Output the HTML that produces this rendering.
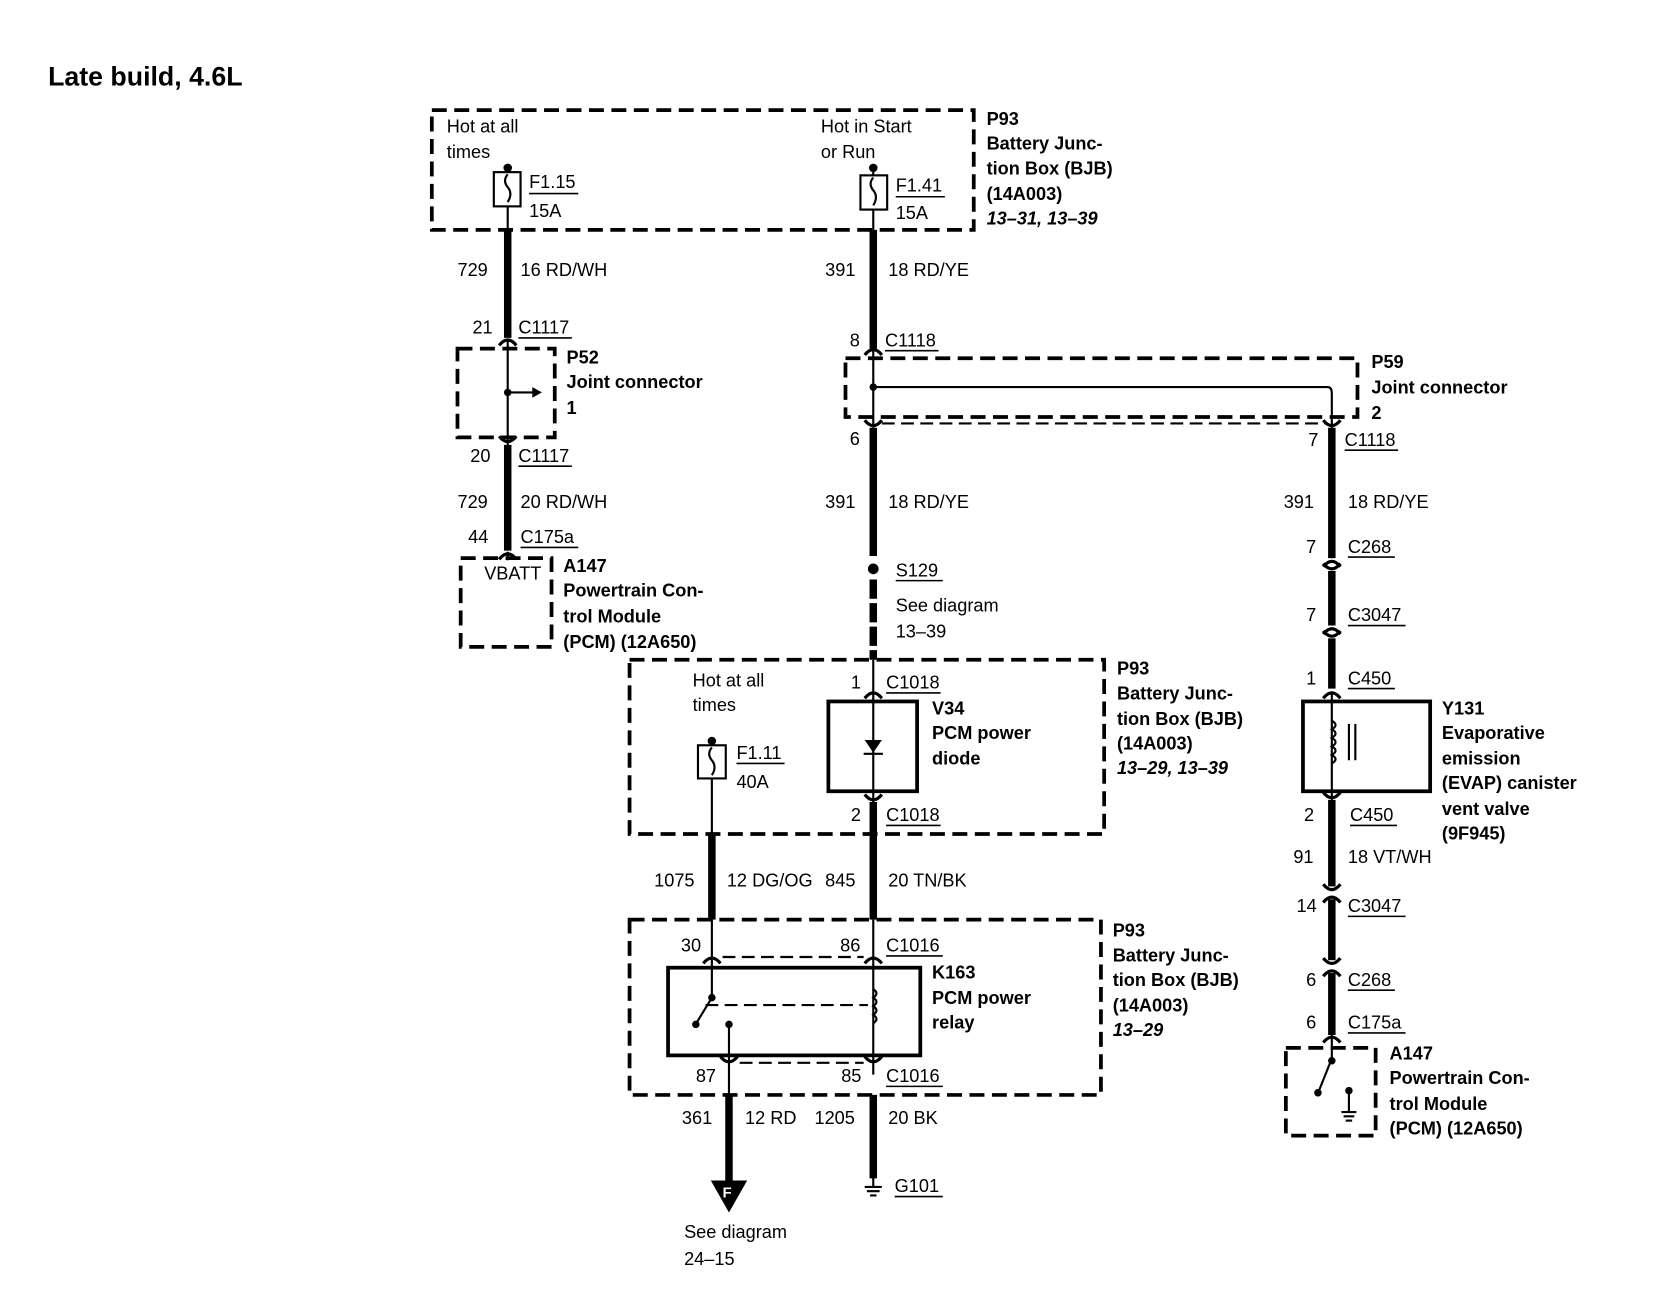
<!DOCTYPE html>
<html><head><meta charset="utf-8"><style>
html,body{margin:0;padding:0;background:#fff;}
svg{display:block;}
text{font-family:"Liberation Sans",Arial,sans-serif;font-size:17px;fill:#000;}
.b{font-weight:bold;}
.i{font-weight:bold;font-style:italic;}
.d{fill:none;stroke:#000;stroke-width:3.5;stroke-dasharray:14,7;}
.w{stroke:#000;stroke-width:7;fill:none;}
.t{stroke:#000;stroke-width:2;fill:none;}
.u{stroke:#000;stroke-width:1.5;}
</style></head><body>
<svg width="1676" height="1312" viewBox="0 0 1568 1227" preserveAspectRatio="none" xmlns="http://www.w3.org/2000/svg">
<defs>
<g id="cap"><path d="M-8,5 Q0,-5 8,5" stroke="#000" stroke-width="3" fill="none"/></g>
<g id="cup"><path d="M-8,-5 Q0,5 8,-5" stroke="#000" stroke-width="3" fill="none"/></g>
</defs>
<text x="45" y="80" class="b" style="font-size:25px">Late build, 4.6L</text>

<!-- Top BJB -->
<rect x="404" y="103" width="507" height="112" class="d"/>
<text x="418" y="124">Hot at all</text><text x="418" y="148">times</text>
<text x="768" y="124">Hot in Start</text><text x="768" y="148">or Run</text>
<circle cx="475" cy="157" r="4"/>
<line x1="475" y1="157" x2="475" y2="215" class="t"/>
<rect x="462" y="161" width="25" height="32" fill="#fff" stroke="#000" stroke-width="2"/>
<path d="M475,163 q-5,6 0,12 q5,6 0,14" class="t"/>
<text x="495" y="176">F1.15</text><line x1="495" y1="181" x2="541" y2="181" class="u"/>
<text x="495" y="203">15A</text>
<circle cx="817" cy="157" r="4"/>
<line x1="817" y1="157" x2="817" y2="215" class="t"/>
<rect x="805" y="164" width="25" height="32" fill="#fff" stroke="#000" stroke-width="2"/>
<path d="M817,166 q-5,6 0,12 q5,6 0,14" class="t"/>
<text x="838" y="179">F1.41</text><line x1="838" y1="184" x2="884" y2="184" class="u"/>
<text x="838" y="205">15A</text>
<text x="923" y="117" class="b">P93</text>
<text x="923" y="140" class="b">Battery Junc-</text>
<text x="923" y="163" class="b">tion Box (BJB)</text>
<text x="923" y="187" class="b">(14A003)</text>
<text x="923" y="210" class="i">13–31, 13–39</text>

<!-- Left wire -->
<line x1="475" y1="215" x2="475" y2="316" class="w"/>
<text x="428" y="258">729</text><text x="487" y="258">16 RD/WH</text>
<use href="#cap" x="475" y="318"/>
<text x="442" y="312">21</text><text x="485" y="312">C1117</text><line x1="485" y1="316" x2="535" y2="316" class="u"/>
<rect x="428" y="326" width="91" height="83" class="d"/>
<line x1="475" y1="318" x2="475" y2="418" class="t"/>
<circle cx="475" cy="367" r="3.5"/>
<line x1="475" y1="367" x2="500" y2="367" class="t"/><path d="M498,362 L507,367 L498,372 Z"/>
<text x="530" y="340" class="b">P52</text><text x="530" y="363" class="b">Joint connector</text><text x="530" y="387" class="b">1</text>
<use href="#cup" x="475" y="413"/>
<line x1="475" y1="416" x2="475" y2="515" class="w"/>
<text x="440" y="432">20</text><text x="485" y="432">C1117</text><line x1="485" y1="436" x2="535" y2="436" class="u"/>
<text x="428" y="475">729</text><text x="487" y="475">20 RD/WH</text>
<text x="438" y="508">44</text><text x="487" y="508">C175a</text><line x1="487" y1="512" x2="541" y2="512" class="u"/>
<use href="#cap" x="475" y="518"/>
<line x1="475" y1="516" x2="475" y2="524" class="t"/>
<rect x="431" y="522" width="85" height="83" class="d"/>
<text x="453" y="542">VBATT</text>
<text x="527" y="535" class="b">A147</text><text x="527" y="558" class="b">Powertrain Con-</text>
<text x="527" y="582" class="b">trol Module</text><text x="527" y="606" class="b">(PCM) (12A650)</text>

<!-- Middle wire top -->
<line x1="817" y1="215" x2="817" y2="326" class="w"/>
<text x="772" y="258">391</text><text x="831" y="258">18 RD/YE</text>
<use href="#cap" x="817" y="327"/>
<text x="795" y="324">8</text><text x="828" y="324">C1118</text><line x1="828" y1="328" x2="878" y2="328" class="u"/>
<rect x="791" y="335" width="479" height="55" class="d"/>
<line x1="817" y1="327" x2="817" y2="400" class="t"/>
<circle cx="817" cy="362" r="3.5"/>
<path d="M817,362 H1242 Q1246,362 1246,368 V400" class="t"/>
<line x1="825" y1="396" x2="1240" y2="396" stroke="#000" stroke-width="2" stroke-dasharray="12,6"/>
<text x="1283" y="344" class="b">P59</text><text x="1283" y="368" class="b">Joint connector</text><text x="1283" y="392" class="b">2</text>
<use href="#cup" x="817" y="398"/>
<use href="#cup" x="1246" y="398"/>
<line x1="817" y1="400" x2="817" y2="520" class="w"/>
<text x="795" y="416">6</text>
<text x="772" y="475">391</text><text x="831" y="475">18 RD/YE</text>
<circle cx="817" cy="532" r="5"/>
<line x1="817" y1="542" x2="817" y2="617" class="w" stroke-dasharray="18,4"/>
<line x1="817" y1="617" x2="817" y2="648" class="t"/>
<text x="838" y="539">S129</text><line x1="838" y1="543" x2="882" y2="543" class="u"/>
<text x="838" y="572">See diagram</text><text x="838" y="596">13–39</text>

<!-- Right wire -->
<line x1="1246" y1="400" x2="1246" y2="646" class="w"/>
<text x="1224" y="417">7</text><text x="1258" y="417">C1118</text><line x1="1258" y1="421" x2="1308" y2="421" class="u"/>
<text x="1201" y="475">391</text><text x="1261" y="475">18 RD/YE</text>
<rect x="1241" y="522" width="10" height="12" fill="#fff"/><use href="#cap" x="1246" y="525"/><use href="#cup" x="1246" y="532"/>
<text x="1222" y="517">7</text><text x="1261" y="517">C268</text><line x1="1261" y1="521" x2="1305" y2="521" class="u"/>
<rect x="1241" y="585" width="10" height="12" fill="#fff"/><use href="#cap" x="1246" y="588"/><use href="#cup" x="1246" y="595"/>
<text x="1222" y="581">7</text><text x="1261" y="581">C3047</text><line x1="1261" y1="585" x2="1315" y2="585" class="u"/>
<rect x="1241" y="644" width="10" height="12" fill="#fff"/><use href="#cap" x="1246" y="648"/>
<text x="1222" y="640">1</text><text x="1261" y="640">C450</text><line x1="1261" y1="644" x2="1305" y2="644" class="u"/>
<rect x="1219" y="656" width="119" height="84" fill="none" stroke="#000" stroke-width="3.5"/>
<line x1="1246" y1="648" x2="1246" y2="748" class="t"/>
<path d="M1246,674 q7,4 0,8 q7,4 0,8 q7,4 0,8 q7,4 0,8 q7,4 0,8" class="t" fill="#fff"/>
<line x1="1262" y1="677" x2="1262" y2="711" class="t"/><line x1="1268" y1="677" x2="1268" y2="711" class="t"/>
<text x="1349" y="668" class="b">Y131</text><text x="1349" y="691" class="b">Evaporative</text>
<text x="1349" y="715" class="b">emission</text><text x="1349" y="738" class="b">(EVAP) canister</text>
<text x="1349" y="762" class="b">vent valve</text><text x="1349" y="785" class="b">(9F945)</text>
<use href="#cup" x="1246" y="746"/>
<line x1="1246" y1="748" x2="1246" y2="968" class="w"/>
<text x="1220" y="768">2</text><text x="1263" y="768">C450</text><line x1="1263" y1="772" x2="1307" y2="772" class="u"/>
<text x="1210" y="807">91</text><text x="1261" y="807">18 VT/WH</text>
<rect x="1241" y="829" width="10" height="12" fill="#fff"/><use href="#cup" x="1246" y="832"/><use href="#cap" x="1246" y="839"/>
<text x="1213" y="853">14</text><text x="1261" y="853">C3047</text><line x1="1261" y1="857" x2="1315" y2="857" class="u"/>
<rect x="1241" y="898" width="10" height="12" fill="#fff"/><use href="#cup" x="1246" y="901"/><use href="#cap" x="1246" y="908"/>
<text x="1222" y="922">6</text><text x="1261" y="922">C268</text><line x1="1261" y1="926" x2="1305" y2="926" class="u"/>
<text x="1222" y="962">6</text><text x="1261" y="962">C175a</text><line x1="1261" y1="966" x2="1315" y2="966" class="u"/>
<use href="#cap" x="1246" y="970"/>
<rect x="1203" y="980" width="84" height="82" class="d"/>
<line x1="1246" y1="968" x2="1246" y2="990" class="t"/>
<line x1="1246" y1="990" x2="1234" y2="1020" class="t"/>
<circle cx="1246" cy="992" r="3.5"/><circle cx="1233" cy="1022" r="3.5"/>
<circle cx="1262" cy="1020" r="3.5"/><line x1="1262" y1="1020" x2="1262" y2="1040" class="t"/>
<line x1="1255" y1="1040" x2="1269" y2="1040" class="t"/><line x1="1257" y1="1044" x2="1267" y2="1044" class="t"/><line x1="1259" y1="1048" x2="1265" y2="1048" class="t"/>
<text x="1300" y="991" class="b">A147</text><text x="1300" y="1014" class="b">Powertrain Con-</text>
<text x="1300" y="1038" class="b">trol Module</text><text x="1300" y="1061" class="b">(PCM) (12A650)</text>

<!-- Middle BJB -->
<rect x="589" y="617" width="444" height="163" class="d"/>
<text x="648" y="642">Hot at all</text><text x="648" y="665">times</text>
<circle cx="666" cy="693" r="4"/>
<line x1="666" y1="693" x2="666" y2="800" class="t"/>
<rect x="653" y="697" width="26" height="31" fill="#fff" stroke="#000" stroke-width="2"/>
<path d="M666,699 q-5,6 0,12 q5,6 0,14" class="t"/>
<text x="689" y="710">F1.11</text><line x1="689" y1="714" x2="734" y2="714" class="u"/>
<text x="689" y="737">40A</text>
<use href="#cap" x="817" y="648"/>
<text x="796" y="644">1</text><text x="829" y="644">C1018</text><line x1="829" y1="648" x2="880" y2="648" class="u"/>
<rect x="775" y="656" width="83" height="84" fill="none" stroke="#000" stroke-width="3.5"/>
<line x1="817" y1="648" x2="817" y2="762" class="t"/>
<path d="M809,692 L825,692 L817,704 Z"/><line x1="808" y1="705" x2="826" y2="705" class="t"/>
<use href="#cup" x="817" y="748"/>
<text x="796" y="768">2</text><text x="829" y="768">C1018</text><line x1="829" y1="772" x2="880" y2="772" class="u"/>
<text x="872" y="668" class="b">V34</text><text x="872" y="691" class="b">PCM power</text><text x="872" y="715" class="b">diode</text>
<text x="1045" y="631" class="b">P93</text><text x="1045" y="654" class="b">Battery Junc-</text>
<text x="1045" y="678" class="b">tion Box (BJB)</text><text x="1045" y="701" class="b">(14A003)</text>
<text x="1045" y="724" class="i">13–29, 13–39</text>

<line x1="666" y1="780" x2="666" y2="860" class="w"/>
<line x1="817" y1="750" x2="817" y2="860" class="w"/>
<text x="612" y="829">1075</text><text x="680" y="829">12 DG/OG</text>
<text x="772" y="829">845</text><text x="831" y="829">20 TN/BK</text>

<!-- Relay BJB -->
<rect x="589" y="860" width="441" height="164" class="d"/>
<line x1="666" y1="860" x2="666" y2="935" class="t"/>
<line x1="817" y1="860" x2="817" y2="1005" class="t"/>
<use href="#cap" x="666" y="896"/><use href="#cap" x="817" y="896"/>
<line x1="676" y1="895" x2="808" y2="895" stroke="#000" stroke-width="2" stroke-dasharray="12,6"/>
<text x="637" y="890">30</text><text x="786" y="890">86</text>
<text x="829" y="890">C1016</text><line x1="829" y1="894" x2="882" y2="894" class="u"/>
<rect x="625" y="905" width="236" height="82" fill="none" stroke="#000" stroke-width="3.5"/>
<circle cx="666" cy="933" r="3.5"/><line x1="666" y1="933" x2="652" y2="956" class="t"/><circle cx="651" cy="958" r="3.5"/>
<circle cx="682" cy="958" r="3.5"/><line x1="682" y1="958" x2="682" y2="1030" class="t"/>
<line x1="660" y1="940" x2="812" y2="940" stroke="#000" stroke-width="2" stroke-dasharray="12,6"/>
<path d="M817,925 q6,4 0,8 q6,4 0,8 q6,4 0,8 q6,4 0,8" class="t" fill="#fff"/>
<use href="#cup" x="682" y="993"/><use href="#cup" x="817" y="993"/>
<line x1="692" y1="994" x2="808" y2="994" stroke="#000" stroke-width="2" stroke-dasharray="12,6"/>
<text x="651" y="1012">87</text><text x="787" y="1012">85</text>
<text x="829" y="1012">C1016</text><line x1="829" y1="1016" x2="882" y2="1016" class="u"/>
<text x="872" y="915" class="b">K163</text><text x="872" y="939" class="b">PCM power</text><text x="872" y="962" class="b">relay</text>
<text x="1041" y="876" class="b">P93</text><text x="1041" y="899" class="b">Battery Junc-</text>
<text x="1041" y="922" class="b">tion Box (BJB)</text><text x="1041" y="946" class="b">(14A003)</text>
<text x="1041" y="969" class="i">13–29</text>

<line x1="682" y1="1024" x2="682" y2="1108" class="w"/>
<path d="M665,1104 L699,1104 L682,1134 Z"/>
<text x="676" y="1120" style="fill:#fff;font-size:14px;font-weight:bold">F</text>
<line x1="817" y1="1024" x2="817" y2="1102" class="w"/>
<line x1="817" y1="1100" x2="817" y2="1110" class="t"/>
<line x1="809" y1="1110" x2="825" y2="1110" class="t"/><line x1="811" y1="1114" x2="823" y2="1114" class="t"/><line x1="814" y1="1118" x2="820" y2="1118" class="t"/>
<text x="638" y="1051">361</text><text x="697" y="1051">12 RD</text>
<text x="762" y="1051">1205</text><text x="831" y="1051">20 BK</text>
<text x="837" y="1115">G101</text><line x1="837" y1="1119" x2="882" y2="1119" class="u"/>
<text x="640" y="1158">See diagram</text><text x="640" y="1183">24–15</text>
</svg>
</body></html>
